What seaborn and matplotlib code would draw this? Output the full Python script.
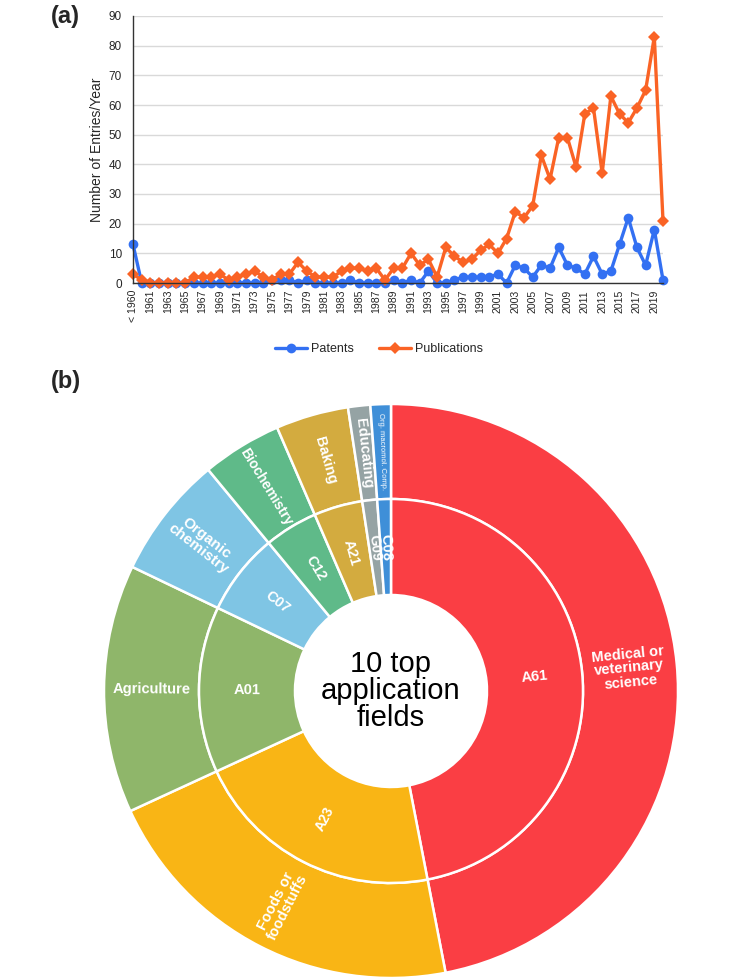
import numpy as np
import pandas as pd
import matplotlib
matplotlib.use('Agg')
import matplotlib.pyplot as plt
import seaborn as sns

# panel (a) data
years = ['< 1960'] + [str(y) for y in range(1960, 2021)]
patents = [13, 0, 0, 0, 0, 0, 0, 0, 0, 0,
           0, 0, 0, 0, 0, 0, 1, 1, 1, 0,
           1, 0, 0, 0, 0, 1, 0, 0, 0, 0,
           1, 0, 1, 0, 4, 0, 0, 1, 2, 2,
           2, 2, 3, 0, 6, 5, 2, 6, 5, 12,
           6, 5, 3, 9, 3, 4, 13, 22, 12, 6,
           18, 1]
publications = [3, 1, 0, 0, 0, 0, 0, 2, 2, 2,
                3, 1, 2, 3, 4, 2, 1, 3, 3, 7,
                4, 2, 2, 2, 4, 5, 5, 4, 5, 1,
                5, 5, 10, 6, 8, 2, 12, 9, 7, 8,
                11, 13, 10, 15, 24, 22, 26, 43, 35, 49,
                49, 39, 57, 59, 37, 63, 57, 54, 59, 65,
                83, 21]

# panel (b) data
codes = ['A61', 'A23', 'A01', 'C07', 'C12', 'A21', 'G09', 'C08']
fields = ['Medical or\nveterinary\nscience', 'Foods or\nfoodstuffs', 'Agriculture',
          'Organic\nchemistry', 'Biochemistry', 'Baking', 'Educating', 'Org. macromol. Comp.']
shares = [47.0, 21.2, 14.0, 6.9, 4.5, 4.1, 1.25, 1.15]
colors = ['#fa3e44', '#f9b515', '#8fb66a', '#7fc5e4', '#5fba89', '#d3ab3f', '#95a3a4', '#3f8fd8']

sns.set_style('white')
plt.rcParams['font.family'] = ['Liberation Sans', 'DejaVu Sans']

fig = plt.figure(figsize=(7.49, 9.77), dpi=100)

# ---------- (a) line chart ----------
ax = fig.add_axes([133 / 749, 1 - 283 / 977, (663 - 133) / 749, (283 - 16) / 977])
df = pd.DataFrame({'idx': range(len(years)), 'Patents': patents, 'Publications': publications})
blue, orange = '#3370f2', '#fa6325'
sns.lineplot(data=df, x='idx', y='Patents', ax=ax, color=blue, lw=2.4, marker='o',
             markersize=7, markeredgewidth=0, label='Patents', clip_on=False, legend=False)
sns.lineplot(data=df, x='idx', y='Publications', ax=ax, color=orange, lw=2.4, marker='D',
             markersize=6.3, markeredgewidth=0, label='Publications', clip_on=False, legend=False)

ax.set_xlim(0, len(years) - 1)
ax.set_ylim(0, 90)
ax.set_yticks(range(0, 91, 10))
ax.set_xticks(range(0, len(years), 2))
ax.set_xticklabels(years[::2], rotation=90)
ax.set_xticks(range(1, len(years), 2), minor=True)
ax.tick_params(axis='x', which='both', length=3, width=0.8, color='#333333', pad=2, labelsize=7.6)
ax.tick_params(axis='y', length=0, pad=8, labelsize=8.5)
ax.yaxis.grid(True, color='#d9d9d9', lw=1)
ax.set_axisbelow(True)
ax.set_xlabel('')
ax.set_ylabel('Number of Entries/Year', fontsize=10, labelpad=3)
for s in ['top', 'right']:
    ax.spines[s].set_visible(False)
for s in ['left', 'bottom']:
    ax.spines[s].set_color('#333333')
    ax.spines[s].set_linewidth(1)

h, l = ax.get_legend_handles_labels()
fig.legend(h, l, loc='center', bbox_to_anchor=(379 / 749, 1 - 349 / 977), ncol=2, frameon=False,
           fontsize=9, handlelength=2.6, columnspacing=2.0, handletextpad=0.3)

fig.text(51 / 749, 1 - 17 / 977, '(a)', fontsize=17, fontweight='bold', va='center')
fig.text(51 / 749, 1 - 381 / 977, '(b)', fontsize=17, fontweight='bold', va='center')

# ---------- (b) sunburst ----------
cx, cy, R = 391, 691, 287
r_mid, r_hole = 192, 96
axp = fig.add_axes([(cx - R) / 749, (977 - cy - R) / 977, 2 * R / 749, 2 * R / 977])
axp.pie(shares, radius=1, colors=colors, startangle=90, counterclock=False,
        wedgeprops=dict(width=1 - r_mid / R, edgecolor='white', linewidth=1.8))
axp.pie(shares, radius=r_mid / R, colors=colors, startangle=90, counterclock=False,
        wedgeprops=dict(width=(r_mid - r_hole) / R, edgecolor='white', linewidth=1.8))
axp.set_xlim(-1, 1)
axp.set_ylim(-1, 1)
axp.set_aspect('equal')
axp.axis('off')

total = sum(shares)
cum = 0
r_in_lab = (r_mid + r_hole) / 2 / R
r_out_lab = (R + r_mid) / 2 / R
out_sizes = [10.5, 10.5, 10.5, 11, 10, 10.5, 10.5, 5.5]
in_sizes = [10.5, 10, 10.5, 10.5, 10.5, 10.5, 10, 10.5]
for code, field, v, fs_o, fs_i in zip(codes, fields, shares, out_sizes, in_sizes):
    theta = (cum + v / 2) / total * 360  # clockwise from top
    cum += v
    phi = np.deg2rad(90 - theta)
    rot = (90 - theta) % 360
    if rot > 90 and rot < 270:
        rot -= 180
    elif rot >= 270:
        rot -= 360
    axp.text(r_in_lab * np.cos(phi), r_in_lab * np.sin(phi), code, color='white',
             fontsize=fs_i, fontweight='bold', ha='center', va='center',
             rotation=rot, rotation_mode='anchor')
    axp.text(r_out_lab * np.cos(phi), r_out_lab * np.sin(phi), field, color='white',
             fontsize=fs_o, fontweight='normal' if fs_o < 6 else 'bold',
             ha='center', va='center', rotation=rot, rotation_mode='anchor',
             linespacing=1.0)

axp.text(0, 0, '10 top\napplication\nfields', fontsize=21, ha='center', va='center',
         linespacing=0.95, color='black')

fig.savefig('out.png', dpi=100)
